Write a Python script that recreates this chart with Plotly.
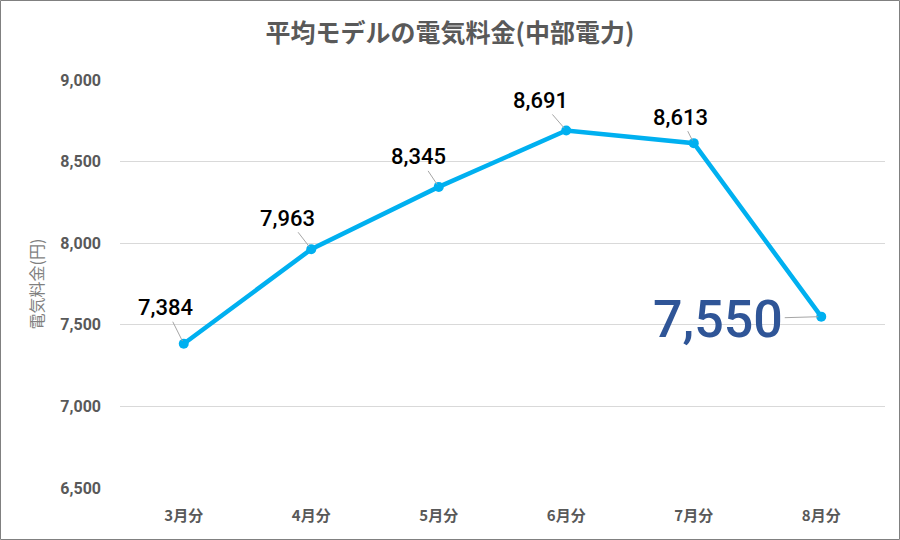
import plotly.graph_objects as go

categories = ["3月分", "4月分", "5月分", "6月分", "7月分", "8月分"]
values = [7384, 7963, 8345, 8691, 8613, 7550]
label_texts = ["7,384", "7,963", "8,345", "8,691", "8,613", "7,550"]
label_ax = [-18, -24, -20, -26, -13, -103]
label_ay = [-36, -31, -30, -30, -26, 3]

fig = go.Figure()
fig.add_trace(go.Scatter(
    x=categories, y=values, mode="lines+markers",
    line=dict(color="#00B0F0", width=4.5),
    marker=dict(color="#00B0F0", size=10),
    hoverinfo="skip", showlegend=False,
))

annotations = []
for i, (c, v, t) in enumerate(zip(categories, values, label_texts)):
    big = (i == len(values) - 1)
    annotations.append(dict(
        x=c, y=v, xref="x", yref="y", text=t,
        showarrow=True, arrowhead=0, arrowwidth=1, arrowcolor="#A6A6A6",
        ax=label_ax[i], ay=label_ay[i], standoff=3,
        font=dict(family="Roboto, Noto Sans", size=52 if big else 22,
                  color="#2F5597" if big else "#000000",
                  weight=500),
    ))

fig.update_layout(
    width=900, height=540,
    margin=dict(l=120, r=15, t=80, b=52),
    paper_bgcolor="white", plot_bgcolor="white",
    title=dict(text="平均モデルの電気料金(中部電力)", x=0.5, xanchor="center",
               y=1 - 33 / 540, yanchor="middle",
               font=dict(family="Noto Sans CJK JP", size=25, color="#595959", weight="bold")),
    xaxis=dict(range=[-0.5, 5.5], showgrid=False, zeroline=False, showline=False,
               tickfont=dict(family="Noto Sans CJK JP", size=15, color="#595959", weight="bold"),
               ticks="", ticklabelstandoff=17),
    yaxis=dict(range=[6500, 9000], dtick=500, tickformat=",",
               showgrid=True, gridcolor="#D9D9D9", gridwidth=1, zeroline=False,
               tickfont=dict(family="Roboto, Noto Sans", size=16, color="#595959", weight="bold"),
               ticks="", ticklabelstandoff=18,
               title=dict(text="電気料金(円)", standoff=12,
                          font=dict(family="Noto Sans CJK JP", size=16, color="#7F7F7F"))),
    annotations=annotations,
    shapes=[dict(type="rect", xref="paper", yref="paper",
                 x0=(0.5 - 120) / 765, x1=(899.5 - 120) / 765,
                 y0=(488 - 539.5) / 408, y1=(488 - 0.5) / 408,
                 line=dict(color="#808080", width=1), layer="below")],
)

fig.write_html("out.html")
